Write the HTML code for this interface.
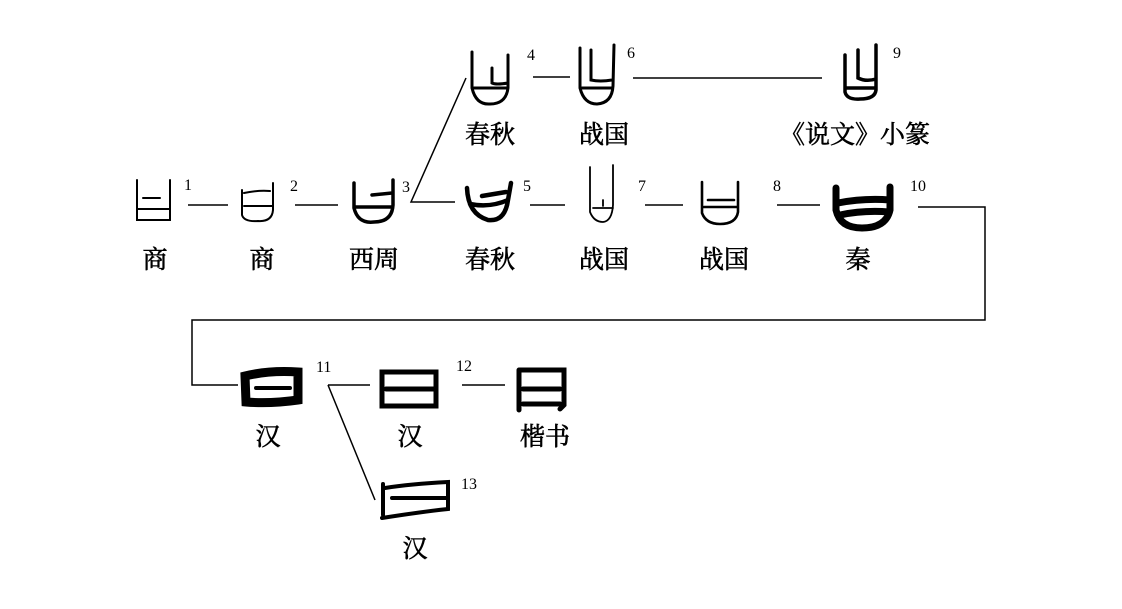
<!DOCTYPE html>
<html><head><meta charset="utf-8"><style>
body{margin:0;background:#fff}
svg{display:block}
.l{font-family:"Liberation Serif","Noto Serif CJK SC",serif;font-size:25px;fill:#000;stroke:#000;stroke-width:0.6;text-anchor:middle}
.n{font-family:"Liberation Serif",serif;font-size:16px;fill:#000}
</style></head><body>
<svg width="1122" height="609" viewBox="0 0 1122 609" xmlns="http://www.w3.org/2000/svg">
<g stroke="#000" stroke-width="1.5" fill="none">
<line x1="188" y1="205" x2="228" y2="205"/>
<line x1="295" y1="205" x2="338" y2="205"/>
<polyline points="466,78 411,202 455,202"/>
<line x1="530" y1="205" x2="565" y2="205"/>
<line x1="645" y1="205" x2="683" y2="205"/>
<line x1="777" y1="205" x2="820" y2="205"/>
<polyline points="918,207 985,207 985,320 192,320 192,385 238,385"/>
<line x1="533" y1="77" x2="570" y2="77"/>
<line x1="633" y1="78" x2="822" y2="78"/>
<line x1="328" y1="385" x2="370" y2="385"/>
<line x1="328" y1="385" x2="375" y2="500"/>
<line x1="462" y1="385" x2="505" y2="385"/>
</g>
<g stroke="#000" fill="none" stroke-linecap="round">
<path d="M137 180 V220 H170 V180 M143 198 H160 M137 209 H170" stroke-width="2"/>
<path d="M242 190 V215 Q244 222 258 221 Q272 222 273 210 V183 M244 193 Q258 190 270 191 M244 206 H272" stroke-width="2"/>
<path d="M354 183 V208 Q358 224 374 222 Q392 222 393 205 V180 M372 195 L392 193 M356 207 H392" stroke-width="3.5"/>
<path d="M472 52 V88 Q476 105 490 104 Q506 104 508 88 V55 M492 68 V83 Q496 85 508 83 M474 88 H506" stroke-width="3"/>
<path d="M467 188 Q468 214 488 220 Q505 222 508 200 L511 183 M482 196 L506 192 M470 204 Q490 208 508 200" stroke-width="4.5"/>
<path d="M580 48 V88 Q584 104 597 104 Q612 103 613 86 L614 45 M591 50 V80 Q600 82 612 80 M582 88 H612" stroke-width="3"/>
<path d="M590 167 V212 Q594 222 603 222 Q612 221 613 205 V165 M593 208 H613 M603 200 V206" stroke-width="1.8"/>
<path d="M702 182 V213 Q706 224 720 224 Q736 224 738 212 V182 M708 200 H734 M704 207 H738" stroke-width="2.6"/>
<path d="M845 55 V92 Q847 100 860 99 Q875 99 876 90 V45 M858 50 V78 Q866 82 876 79 M847 88 H876" stroke-width="3.5"/>
<path d="M836 188 V210 Q840 228 862 228 Q886 228 890 210 V187 M838 203 Q864 198 890 200 M840 215 Q864 210 889 212" stroke-width="7"/>
<path d="M245 376 Q270 370 298 372 V400 Q270 404 246 402 Z" stroke-width="9"/>
<path d="M256 388 H290" stroke-width="4"/>
<path d="M382 372 H436 V406 H382 Z M386 389 H434" stroke-width="5"/>
<path d="M385 488 Q410 484 448 482 V509 Q420 512 382 518 M383 484 V515 M392 498 H446" stroke-width="4"/>
<path d="M519 370 V410 M519 370 H564 V405 L560 409 M523 389 H560 M523 404 H560" stroke-width="5"/>
</g>
<g class="n">
<text x="184" y="190">1</text><text x="290" y="191">2</text><text x="402" y="192">3</text>
<text x="527" y="60">4</text><text x="523" y="191">5</text><text x="627" y="58">6</text>
<text x="638" y="191">7</text><text x="773" y="191">8</text><text x="893" y="58">9</text>
<text x="910" y="191">10</text><text x="316" y="372">11</text><text x="456" y="371">12</text>
<text x="461" y="489">13</text>
</g>
<g class="l">
<text x="155" y="268">商</text><text x="262" y="268">商</text><text x="374" y="268">西周</text>
<text x="490" y="268">春秋</text><text x="604" y="268">战国</text><text x="724" y="268">战国</text>
<text x="858" y="268">秦</text>
<text x="490" y="143">春秋</text><text x="604" y="143">战国</text><text x="855" y="143">《说文》小篆</text>
<text x="268" y="445">汉</text><text x="410" y="445">汉</text><text x="545" y="445">楷书</text>
<text x="415" y="557">汉</text>
</g>
</svg>
</body></html>
